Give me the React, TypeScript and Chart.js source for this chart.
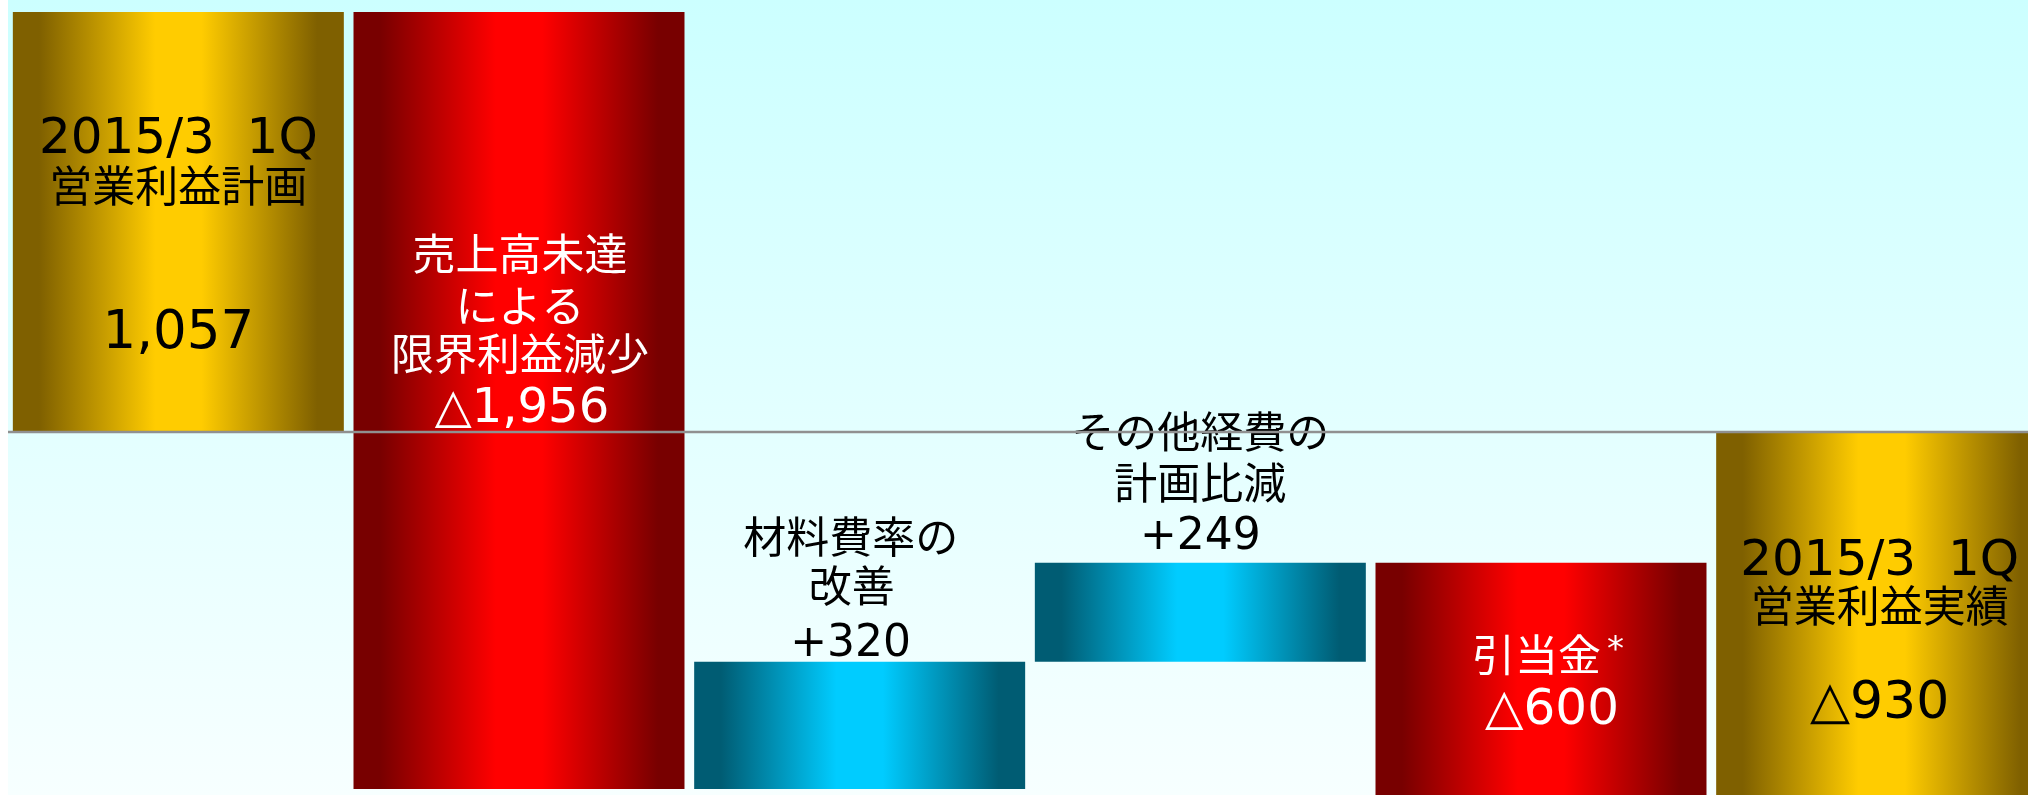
import React, { useEffect, useRef } from "react";
import { Chart, registerables } from "chart.js";

Chart.register(...registerables);

// ---- data ----
const categories = [
  "2015/3 1Q 営業利益計画",
  "売上高未達による限界利益減少",
  "材料費率の改善",
  "その他経費の計画比減",
  "引当金",
  "2015/3 1Q 営業利益実績",
];
const changes = [1057, -1956, 320, 249, -600, -930];
const barKinds = ["total", "down", "up", "up", "down", "total"];
const labelLines = [
  ["2015/3  1Q", "営業利益計画", "1,057"],
  ["売上高未達", "による", "限界利益減少", "△1,956"],
  ["材料費率の", "改善", "+320"],
  ["その他経費の", "計画比減", "+249"],
  ["引当金*", "△600"],
  ["2015/3  1Q", "営業利益実績", "△930"],
];

// ---- layout / style ----
const lineY = [
  [135, 186.5, 328],
  [254, 306, 354, 404],
  [537.5, 586, 639],
  [432, 483, 532],
  [655.5, 706],
  [556.5, 606, 698.5],
];
const lineDx = [
  [0, 0, 0],
  [1, 1, 1, 3],
  [-9, -8, -9],
  [0, 0, 0],
  [-4.5, 11],
  [-2, -2, -2],
];
const headSize = [50, 48, 44, 44, 50, 50];
const valueSize = [53, 48, 44, 44, 50, 52];
const textColor = ["#000000", "#ffffff", "#000000", "#000000", "#ffffff", "#000000"];
const kindColors: Record<string, [string, string]> = {
  total: ["#7F6000", "#FFCC00"],
  down: ["#780000", "#FF0000"],
  up: ["#005C73", "#00CCFF"],
};
const BAR_PCT = 0.9716;
const CJK_FONT = '"Noto Sans CJK JP"';
const LATIN_FONT = '"DejaVu Sans"';

function buildRanges(): [number, number][] {
  const out: [number, number][] = [];
  let cum = 0;
  changes.forEach((v, i) => {
    if (barKinds[i] === "total") {
      out.push([0, v]);
      cum = v;
    } else {
      out.push([cum, cum + v]);
      cum += v;
    }
  });
  return out;
}

const isCJK = (s: string) => /[\u3040-\u30ff\u3400-\u9fff]/.test(s);

const bgPlugin = {
  id: "bgGradient",
  beforeDraw(chart: any) {
    const { ctx, width, height } = chart;
    const g = ctx.createLinearGradient(0, 0, 0, 795);
    g.addColorStop(0, "#CCFFFF");
    g.addColorStop(1, "#F7FFFF");
    ctx.save();
    ctx.fillStyle = g;
    ctx.fillRect(0, 0, width, height);
    ctx.restore();
  },
};

const overlayPlugin = {
  id: "overlay",
  afterDatasetsDraw(chart: any) {
    const { ctx, chartArea } = chart;
    const meta = chart.getDatasetMeta(0);
    ctx.save();
    meta.data.forEach((bar: any, i: number) => {
      const lines = labelLines[i];
      lines.forEach((raw, j) => {
        const hasStar = raw.endsWith("*");
        const text = hasStar ? raw.slice(0, -1) : raw;
        const cjk = isCJK(text);
        const isLast = j === lines.length - 1;
        const size = cjk ? 43 : isLast ? valueSize[i] : headSize[i];
        ctx.font = `${size}px ${cjk ? CJK_FONT : LATIN_FONT}`;
        const refM = ctx.measureText(cjk ? "国" : "0");
        const cx = bar.x + lineDx[i][j];
        const cy = lineY[i][j];
        const baseline = cy + (refM.actualBoundingBoxAscent - refM.actualBoundingBoxDescent) / 2;
        ctx.fillStyle = textColor[i];
        ctx.textAlign = "center";
        ctx.textBaseline = "alphabetic";
        ctx.fillText(text, cx, baseline);
        if (hasStar) {
          const w = ctx.measureText(text).width;
          const top = baseline - refM.actualBoundingBoxAscent - 1;
          ctx.font = `34px ${LATIN_FONT}`;
          const sm = ctx.measureText("*");
          ctx.textAlign = "left";
          ctx.fillText("*", cx + w / 2 + 6, top + sm.actualBoundingBoxAscent);
        }
      });
    });
    // zero line
    const y0 = Math.round(chart.scales.y.getPixelForValue(0));
    ctx.strokeStyle = "#909090";
    ctx.lineWidth = 2.5;
    ctx.beginPath();
    ctx.moveTo(chartArea.left, y0);
    ctx.lineTo(chartArea.right, y0);
    ctx.stroke();
    ctx.restore();
  },
};

export default function App() {
  const ref = useRef<HTMLCanvasElement | null>(null);
  useEffect(() => {
    if (!ref.current) return;
    const ranges = buildRanges();
    const chart = new Chart(ref.current, {
      type: "bar",
      data: {
        labels: categories,
        datasets: [
          {
            data: ranges as any,
            barPercentage: BAR_PCT,
            categoryPercentage: 1,
            borderWidth: 0,
            backgroundColor: (c: any) => {
              const ch = c.chart;
              const kind = barKinds[c.dataIndex] || "total";
              const [dark, bright] = kindColors[kind];
              if (!ch.chartArea || !ch.scales.x) return bright;
              const xs = ch.scales.x;
              const center = xs.getPixelForValue(c.dataIndex);
              const w = (xs.width / categories.length) * BAR_PCT;
              const g = ch.ctx.createLinearGradient(center - w / 2, 0, center + w / 2, 0);
              g.addColorStop(0, dark);
              g.addColorStop(0.08, dark);
              g.addColorStop(0.43, bright);
              g.addColorStop(0.57, bright);
              g.addColorStop(0.92, dark);
              g.addColorStop(1, dark);
              return g;
            },
          },
        ],
      },
      options: {
        responsive: false,
        animation: false,
        layout: { padding: 0 },
        plugins: { legend: { display: false }, tooltip: { enabled: false } },
        scales: {
          x: { display: false },
          y: { display: false, min: -1000, max: 1087 },
        },
      },
      plugins: [bgPlugin, overlayPlugin],
    });
    return () => chart.destroy();
  }, []);
  return (
    <div
      style={{
        position: "fixed",
        left: 8,
        top: 0,
        width: 2020,
        height: 795,
        overflow: "hidden",
      }}
    >
      <canvas ref={ref} width={2044} height={829} style={{ display: "block", width: 2044, height: 829 }} />
    </div>
  );
}
